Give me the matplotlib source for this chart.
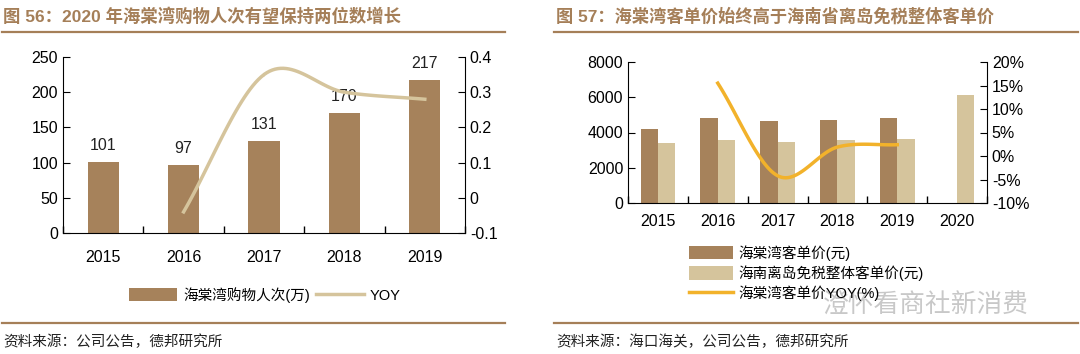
import numpy as np
import matplotlib
matplotlib.use("Agg")
import matplotlib.pyplot as plt
from matplotlib.lines import Line2D

plt.rcParams['font.family'] = ['Liberation Sans', 'Noto Sans CJK SC', 'DejaVu Sans']

# left chart data
years_l = ['2015', '2016', '2017', '2018', '2019']
visits = [101, 97, 131, 170, 217]
visits_yoy = [None, -0.04, 0.35, 0.30, 0.28]

# right chart data
years_r = ['2015', '2016', '2017', '2018', '2019', '2020']
htw_price = [4200, 4850, 4650, 4700, 4800, None]
hainan_price = [3400, 3550, 3450, 3550, 3650, 6150]
htw_yoy = [None, 15.5, -4.2, 1.9, 2.4, None]

dark = '#A6825B'
light = '#D5C49C'
title_c = '#A57F58'
cjk = ['Noto Sans CJK SC', 'DejaVu Sans']


def smooth(xs, ys, n=30):
    # catmull-rom curve through the points, like excel's smoothed line
    xs = np.asarray(xs, float)
    ys = np.asarray(ys, float)
    px = np.concatenate([[2 * xs[0] - xs[1]], xs, [2 * xs[-1] - xs[-2]]])
    py = np.concatenate([[2 * ys[0] - ys[1]], ys, [2 * ys[-1] - ys[-2]]])
    ox, oy = [], []
    for i in range(1, len(px) - 2):
        t = np.linspace(0, 1, n)
        for p, o in ((px, ox), (py, oy)):
            p0, p1, p2, p3 = p[i - 1], p[i], p[i + 1], p[i + 2]
            o.extend(0.5 * (2 * p1 + (-p0 + p2) * t + (2 * p0 - 5 * p1 + 4 * p2 - p3) * t ** 2
                            + (-p0 + 3 * p1 - 3 * p2 + p3) * t ** 3))
    return np.array(ox), np.array(oy)


fig = plt.figure(figsize=(10.8, 3.54), dpi=100)
W, H = 1080, 354


def fx(px):
    return px / W


def fy(py):
    return 1 - py / H


# titles, rules and sources
fig.text(fx(3), fy(16), '图 56：2020 年海棠湾购物人次有望保持两位数增长', color=title_c,
         fontsize=12.5, fontweight='bold', family=['Liberation Sans', 'Noto Sans CJK SC'], va='center')
fig.text(fx(556), fy(16), '图 57：海棠湾客单价始终高于海南省离岛免税整体客单价', color=title_c,
         fontsize=12.4, fontweight='bold', family=['Liberation Sans', 'Noto Sans CJK SC'], va='center')
for x0, x1 in ((2, 505), (554, 1078)):
    fig.add_artist(Line2D([fx(x0), fx(x1)], [fy(32), fy(32)], color=title_c, lw=1.6))
    fig.add_artist(Line2D([fx(x0), fx(x1)], [fy(323), fy(323)], color=title_c, lw=1.6))
fig.text(fx(3), fy(342), '资料来源：公司公告，德邦研究所', fontsize=10.5, family=cjk, va='center', color='#222222')
fig.text(fx(556), fy(342), '资料来源：海口海关，公司公告，德邦研究所', fontsize=10.5, family=cjk, va='center', color='#222222')

# ---- left chart
ax1 = fig.add_axes([fx(63), fy(233), fx(465 - 63), fy(57) - fy(233)])
x1 = np.arange(len(years_l))
ax1.bar(x1, visits, width=0.39, color=dark, label='海棠湾购物人次(万)', zorder=2)
for xi, v in zip(x1, visits):
    ax1.text(xi, v + 13, str(v), ha='center', va='bottom', fontsize=11.5, color='#222222')
ax1.set_xlim(-0.5, 4.5)
ax1.set_ylim(0, 250)
ax1.set_yticks(range(0, 251, 50))
ax1.set_xticks(x1)
ax1.set_xticklabels(years_l)
ax1.set_xticks(np.arange(-0.5, 4.6, 1), minor=True)
ax1.tick_params(axis='x', which='major', length=0, pad=12, labelsize=11.5)
ax1.tick_params(axis='x', which='minor', length=5, direction='in', width=1)
ax1.tick_params(axis='y', direction='in', length=5, labelsize=11.5)
ax1.spines[['top', 'right']].set_visible(False)

ax1r = ax1.twinx()
lx = [i for i, v in enumerate(visits_yoy) if v is not None]
ly = [v for v in visits_yoy if v is not None]
sx, sy = smooth(lx, ly)
ax1r.plot(sx, sy, color=light, lw=2.5, label='YOY')
ax1r.set_ylim(-0.1, 0.4)
ax1r.set_yticks([-0.1, 0, 0.1, 0.2, 0.3, 0.4])
ax1r.set_yticklabels(['-0.1', '0', '0.1', '0.2', '0.3', '0.4'])
ax1r.tick_params(axis='y', direction='in', length=5, labelsize=11.5)
ax1r.spines[['top', 'left', 'bottom']].set_visible(False)

h1, l1 = ax1.get_legend_handles_labels()
h2, l2 = ax1r.get_legend_handles_labels()
fig.legend(h1 + h2, l1 + l2, loc='center', bbox_to_anchor=(fx(265), fy(295)), ncol=2, frameon=False,
           prop={'family': ['Liberation Sans', 'Noto Sans CJK SC'], 'size': 10.5}, handlelength=3.3,
           handleheight=1.0, columnspacing=0.4, handletextpad=0.4)

# ---- right chart
ax2 = fig.add_axes([fx(628), fy(203), fx(987 - 628), fy(62) - fy(203)])
x2 = np.arange(len(years_r))
bw = 0.29
d_x = [xi for xi, v in zip(x2, htw_price) if v is not None]
d_v = [v for v in htw_price if v is not None]
ax2.bar(np.array(d_x) - bw / 2, d_v, width=bw, color=dark, label='海棠湾客单价(元)', zorder=2)
ax2.bar(x2 + bw / 2, hainan_price, width=bw, color=light, label='海南离岛免税整体客单价(元)', zorder=2)
ax2.set_xlim(-0.5, 5.5)
ax2.set_ylim(0, 8000)
ax2.set_yticks(range(0, 8001, 2000))
ax2.set_xticks(x2)
ax2.set_xticklabels(years_r)
ax2.set_xticks(np.arange(-0.5, 5.6, 1), minor=True)
ax2.tick_params(axis='x', which='major', length=0, pad=8, labelsize=11.5)
ax2.tick_params(axis='x', which='minor', length=5, direction='in', width=1)
ax2.tick_params(axis='y', direction='in', length=5, labelsize=11.5)
ax2.spines[['top', 'right']].set_visible(False)

ax2r = ax2.twinx()
rx = [i for i, v in enumerate(htw_yoy) if v is not None]
ry = [v for v in htw_yoy if v is not None]
sx, sy = smooth(rx, ry)
ax2r.plot(sx, sy, color='#F2B22B', lw=2.5, label='海棠湾客单价YOY(%)')
ax2r.set_ylim(-10, 20)
ax2r.set_yticks(range(-10, 21, 5))
ax2r.set_yticklabels([f'{t}%' for t in range(-10, 21, 5)])
ax2r.tick_params(axis='y', direction='in', length=5, labelsize=11.5)
ax2r.spines[['top', 'left', 'bottom']].set_visible(False)

h1, l1 = ax2.get_legend_handles_labels()
h2, l2 = ax2r.get_legend_handles_labels()
fig.legend(h1 + h2, l1 + l2, loc='upper left', bbox_to_anchor=(fx(682), fy(238)), ncol=1, frameon=False,
           prop={'family': ['Liberation Sans', 'Noto Sans CJK SC'], 'size': 10.5}, handlelength=3.0,
           handleheight=1.0, labelspacing=0.3, handletextpad=0.4, borderpad=0)

# watermark
fig.text(fx(823), fy(306), '澄怀看商社新消费', fontsize=18.5, family=cjk, color='#BBBBBB', alpha=0.8,
         va='center')

fig.savefig('out.png', dpi=100, facecolor='white')
